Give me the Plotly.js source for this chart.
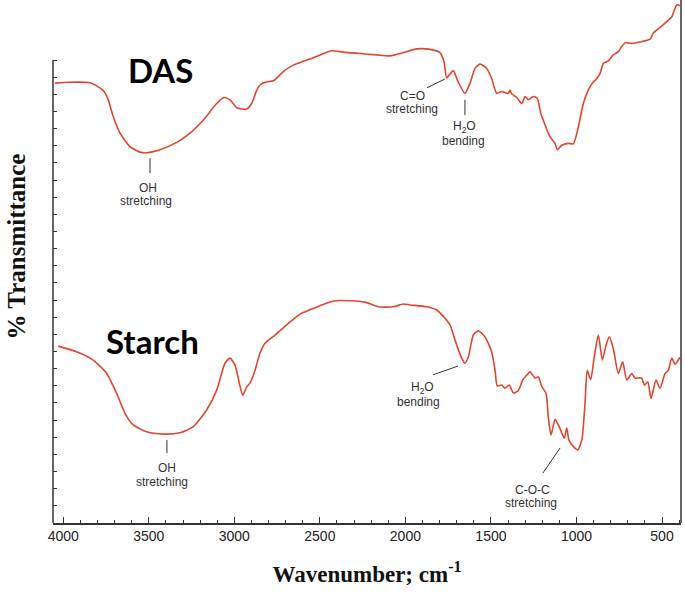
<!DOCTYPE html>
<html>
<head>
<meta charset="utf-8">
<script src="https://cdn.plot.ly/plotly-3.0.1.min.js"></script>
<style>html,body{margin:0;padding:0;background:#fff;}#chart{width:685px;height:597px;}</style>
</head>
<body>
<div id="chart"></div>
<script>
// Wavenumber (cm^-1) and % transmittance (arbitrary offset scale)
var dasWavenumber = [4049,3961,3844,3805,3766,3737,3708,3668,3610,3552,3503,3435,3337,3259,3182,3103,3060,3025,2986,2928,2899,2869,2850,2811,2772,2714,2655,2606,2558,2499,2431,2363,2265,2168,2090,2012,1934,1856,1798,1774,1759,1739,1720,1691,1652,1622,1593,1564,1525,1496,1466,1437,1399,1389,1379,1349,1320,1301,1282,1252,1229,1209,1184,1155,1125,1112,1086,1048,1018,989,960,931,901,886,862,843,814,785,755,736,716,677,629,570,551,502,463,443,434,414,395];
var dasT = [95.0,95.2,95.1,94.4,93.4,91.4,87.8,84.2,81.3,80.1,80.0,80.6,82.2,84.2,87.0,90.6,91.9,91.4,89.7,89.4,90.6,93.5,94.6,95.3,95.5,97.5,98.9,99.6,100.2,101.1,102.0,101.7,101.4,101.1,100.9,101.6,102.4,102.3,101.6,99.6,96.1,97.0,97.7,95.2,92.8,95.0,98.2,99.1,98.2,96.0,92.8,93.2,92.8,93.5,92.7,91.9,90.6,92.1,91.4,92.1,91.7,88.5,86.0,83.4,82.0,80.6,81.6,82.0,81.9,85.6,90.6,93.5,95.3,95.8,97.1,99.3,99.8,101.1,101.8,102.9,103.7,103.6,103.9,104.5,105.8,107.3,108.6,109.3,110.2,111.9,111.7];

var starchWavenumber = [4029,3922,3825,3746,3688,3639,3591,3512,3415,3318,3240,3162,3103,3055,3025,2996,2971,2951,2928,2909,2879,2850,2821,2762,2694,2616,2548,2489,2412,2324,2236,2158,2071,2012,1973,1875,1817,1759,1739,1710,1671,1652,1632,1603,1574,1535,1496,1476,1463,1437,1418,1393,1369,1340,1314,1282,1272,1242,1223,1203,1178,1165,1149,1125,1106,1086,1071,1057,1044,1018,993,969,950,937,917,896,872,849,827,808,785,755,730,706,677,658,619,603,583,564,535,512,482,463,443,424,395];
var starchT = [38.2,37.0,35.2,32.3,28.0,23.7,21.2,19.7,19.2,19.5,20.8,24.4,28.7,34.5,35.6,34.1,30.2,27.6,29.4,30.2,33.0,36.7,38.8,40.6,42.8,45.1,46.2,47.1,48.0,48.0,47.7,46.7,46.7,47.3,47.1,46.7,46.0,43.8,42.8,39.5,35.6,34.5,35.9,40.6,41.5,40.2,37.0,33.0,29.6,29.8,29.1,29.8,28.1,28.6,30.9,32.3,32.7,31.3,31.6,29.5,28.0,23.0,19.0,22.4,21.2,19.5,18.3,20.5,17.9,16.5,15.8,17.9,25.9,33.0,30.9,35.9,40.6,35.2,38.4,40.2,37.7,32.3,34.8,30.9,32.3,31.3,31.3,29.8,30.5,26.9,30.9,29.1,32.3,33.0,35.6,34.3,35.8];

var xTickVals = [4000,3500,3000,2500,2000,1500,1000,500];
var xTickText = ["4000","3500","3000","2500","2000","1500","1000","500"];

var lineColor = "#e0462f";
var inkColor = "#333333";

var traces = [
  {x: dasWavenumber, y: dasT, name: "DAS", type: "scatter", mode: "lines",
   line: {color: lineColor, width: 1.6, shape: "spline", smoothing: 0.6}, hoverinfo: "x+y"},
  {x: starchWavenumber, y: starchT, name: "Starch", type: "scatter", mode: "lines",
   line: {color: lineColor, width: 1.6, shape: "spline", smoothing: 0.6}, hoverinfo: "x+y"}
];

var yTicks = [];
for (var i = 0; i <= 27; i++) { yTicks.push(i * 100 / 27); }

var smallFont = {family: "Liberation Sans, Arial, sans-serif", size: 12, color: inkColor};
var bigFont = {family: "Lato, Carlito, Calibri, sans-serif", size: 33, color: "#000", weight: 700};
var serifFont = {family: "Liberation Serif, Times New Roman, serif", size: 25, color: "#111"};

function note(text, x, y) {
  return {text: text, x: x, y: y, xref: "x", yref: "y", showarrow: false, font: smallFont, xanchor: "center", yanchor: "middle"};
}

var annotations = [
  {text: "<b>DAS</b>", x: 3429, y: 97.8, xref: "x", yref: "y", showarrow: false, font: bigFont},
  {text: "<b>Starch</b>", x: 3476, y: 39.3, xref: "x", yref: "y", showarrow: false, font: bigFont},
  note("OH", 3505, 72.3), note("stretching", 3517, 69.5),
  note("C=O", 1956, 92.2), note("stretching", 1961, 89.4),
  note("H<sub>2</sub>O", 1652, 85.5), note("bending", 1663, 82.5),
  note("OH", 3394, 11.9), note("stretching", 3423, 8.85),
  note("H<sub>2</sub>O", 1903, 29.2), note("bending", 1921, 26.1),
  note("C-O-C", 1260, 7.1), note("stretching", 1266, 4.3),
  {text: "<b>% Transmittance</b>", textangle: -90, xref: "paper", yref: "paper", x: -0.058, y: 0.528,
   xanchor: "center", yanchor: "middle", showarrow: false, font: serifFont}
];

function seg(x0, y0, x1, y1) {
  return {type: "line", xref: "x", yref: "y", x0: x0, y0: y0, x1: x1, y1: y1, line: {color: inkColor, width: 1}};
}

var shapes = [
  seg(3493, 78.8, 3493, 75.6),
  seg(1874, 94.0, 1769, 95.9),
  seg(1652, 91.4, 1652, 88.1),
  seg(3394, 17.9, 3394, 15.1),
  seg(1839, 32.0, 1692, 33.9),
  seg(1196, 10.8, 1096, 16.2),
  {type: "line", xref: "paper", yref: "y", x0: 0, x1: 0, y0: 0, y1: 100, line: {color: inkColor, width: 1.5}},
  {type: "line", xref: "paper", yref: "paper", x0: 1, x1: 1, y0: 0, y1: 1, line: {color: inkColor, width: 1.5}}
];

var layout = {
  width: 685, height: 597,
  margin: {l: 53, r: 4, t: 0, b: 74},
  paper_bgcolor: "#fff", plot_bgcolor: "#fff",
  showlegend: false,
  xaxis: {
    range: [4060, 389], autorange: false,
    showline: true, linecolor: inkColor, linewidth: 1.5,
    showgrid: false, zeroline: false,
    ticks: "inside", ticklen: 6, tickwidth: 1, tickcolor: inkColor,
    tickvals: xTickVals, ticktext: xTickText,
    minor: {dtick: 100, tick0: 0, ticks: "inside", ticklen: 3, tickwidth: 1, tickcolor: inkColor, showgrid: false},
    tickfont: {family: "Liberation Sans, Arial, sans-serif", size: 14, color: "#222"},
    title: {text: "<b>Wavenumber; cm<sup>-1</sup></b>", font: {family: "Liberation Serif, Times New Roman, serif", size: 23, color: "#111"}, standoff: 22}
  },
  yaxis: {
    range: [0, 112.96], autorange: false,
    showline: false, showgrid: false, zeroline: false,
    ticks: "inside", ticklen: 4, tickwidth: 1, tickcolor: inkColor,
    tickvals: yTicks, showticklabels: false
  },
  annotations: annotations,
  shapes: shapes
};

Plotly.newPlot("chart", traces, layout, {displayModeBar: false, staticPlot: true});
</script>
</body>
</html>
